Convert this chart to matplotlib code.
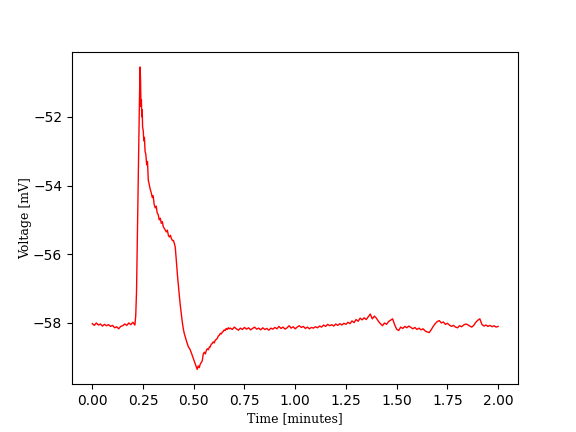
import numpy as np
import matplotlib
matplotlib.use("Agg")
import matplotlib.pyplot as plt

# baseline before the event, sampled every 0.01 min from t=0.00
pre_start = 0.0
pre_v = [-58.02, -58.07, -58.00, -58.06, -58.03, -58.09, -58.04, -58.08, -58.05, -58.10,
         -58.07, -58.14, -58.11, -58.17, -58.10, -58.08, -58.03, -58.07, -58.00, -58.05,
         -57.98, -58.06]

# event (spike, plateau, undershoot), irregular sampling
spike_t = [0.214, 0.218, 0.222, 0.226, 0.230, 0.233, 0.236, 0.238, 0.240, 0.242,
           0.244, 0.246, 0.248, 0.251, 0.254, 0.257, 0.260, 0.264, 0.268, 0.272,
           0.276, 0.280, 0.285, 0.290, 0.296, 0.300, 0.305, 0.310, 0.315, 0.320,
           0.325, 0.330, 0.335, 0.340, 0.345, 0.350, 0.355, 0.360, 0.365, 0.370,
           0.375, 0.380, 0.385, 0.390, 0.395, 0.400, 0.405, 0.409, 0.413, 0.417,
           0.421, 0.425, 0.429, 0.433, 0.438, 0.443, 0.448, 0.453, 0.458, 0.463,
           0.468, 0.474, 0.480, 0.487, 0.493, 0.499, 0.505, 0.511, 0.517, 0.522,
           0.527, 0.532, 0.537, 0.542, 0.547, 0.552, 0.557, 0.562, 0.567, 0.572,
           0.577, 0.581, 0.586, 0.591, 0.596, 0.601, 0.606, 0.611, 0.616, 0.621,
           0.626, 0.631, 0.636, 0.641, 0.645, 0.650, 0.655, 0.660, 0.665, 0.670,
           0.675, 0.680]
spike_v = [-57.80, -57.10, -55.50, -53.80, -52.20, -51.30, -50.55, -51.00, -51.70, -51.50,
           -52.00, -51.80, -52.30, -52.40, -52.70, -52.60, -53.00, -53.10, -53.40, -53.30,
           -53.85, -53.95, -54.10, -54.20, -54.35, -54.30, -54.55, -54.65, -54.60, -54.80,
           -54.85, -55.00, -54.95, -55.10, -55.05, -55.20, -55.25, -55.30, -55.35, -55.30,
           -55.45, -55.50, -55.45, -55.55, -55.60, -55.60, -55.70, -55.80, -56.10, -56.40,
           -56.70, -56.95, -57.20, -57.45, -57.70, -57.95, -58.15, -58.30, -58.40, -58.50,
           -58.60, -58.70, -58.75, -58.85, -58.95, -59.05, -59.15, -59.25, -59.35, -59.25,
           -59.30, -59.20, -59.15, -59.10, -58.90, -58.85, -58.90, -58.80, -58.75, -58.78,
           -58.70, -58.70, -58.62, -58.60, -58.55, -58.58, -58.50, -58.48, -58.45, -58.38,
           -58.36, -58.30, -58.32, -58.26, -58.25, -58.20, -58.22, -58.16, -58.19, -58.14,
           -58.17, -58.15]

# recovery / baseline after the event, sampled every 0.01 min from t=0.69
post_start = 0.69
post_v = [-58.19, -58.12, -58.17, -58.21, -58.15, -58.19, -58.13, -58.18, -58.14, -58.20,
          -58.16, -58.12, -58.18, -58.15, -58.20, -58.14, -58.19, -58.16, -58.21, -58.15,
          -58.18, -58.13, -58.17, -58.10, -58.16, -58.12, -58.18, -58.14, -58.08, -58.15,
          -58.11, -58.17, -58.12, -58.08, -58.13, -58.10, -58.16, -58.12, -58.17, -58.13,
          -58.15, -58.11, -58.14, -58.09, -58.12, -58.06, -58.10, -58.04, -58.08, -58.05,
          -58.09, -58.03, -58.07, -58.02, -58.06, -58.01, -58.04, -57.98, -58.02, -57.94,
          -57.99, -57.90, -57.95, -57.86, -57.91, -57.85, -57.90, -57.82, -57.74, -57.88,
          -57.80, -57.86, -57.95, -58.02, -58.08, -58.00, -58.04, -57.96, -57.92, -57.88,
          -58.05, -58.18, -58.22, -58.12, -58.16, -58.10, -58.14, -58.09, -58.13, -58.17,
          -58.13, -58.19, -58.15, -58.20, -58.17, -58.23, -58.26, -58.28, -58.20, -58.10,
          -58.02, -57.96, -57.93, -58.00, -57.97, -58.04, -58.01, -58.06, -58.10, -58.07,
          -58.12, -58.14, -58.08, -58.11, -58.06, -58.03, -58.05, -58.09, -58.12, -58.07,
          -57.98, -57.92, -57.88, -58.04, -58.09, -58.06, -58.10, -58.07, -58.11, -58.08,
          -58.12, -58.10]

pre_t = pre_start + 0.01 * np.arange(len(pre_v))
post_t = post_start + 0.01 * np.arange(len(post_v))
t = np.concatenate([pre_t, spike_t, post_t])
v = np.concatenate([pre_v, spike_v, post_v])

fig = plt.figure(figsize=(5.76, 4.32), dpi=100)
ax = fig.add_subplot(111)
ax.plot(t, v, color='red', linewidth=1.0)

ax.set_xlabel("Time [minutes]", family='serif', fontsize=9, labelpad=3)
ax.set_ylabel("Voltage [mV]", family='serif', fontsize=9, labelpad=1)

fig.savefig("out.png", dpi=100)
